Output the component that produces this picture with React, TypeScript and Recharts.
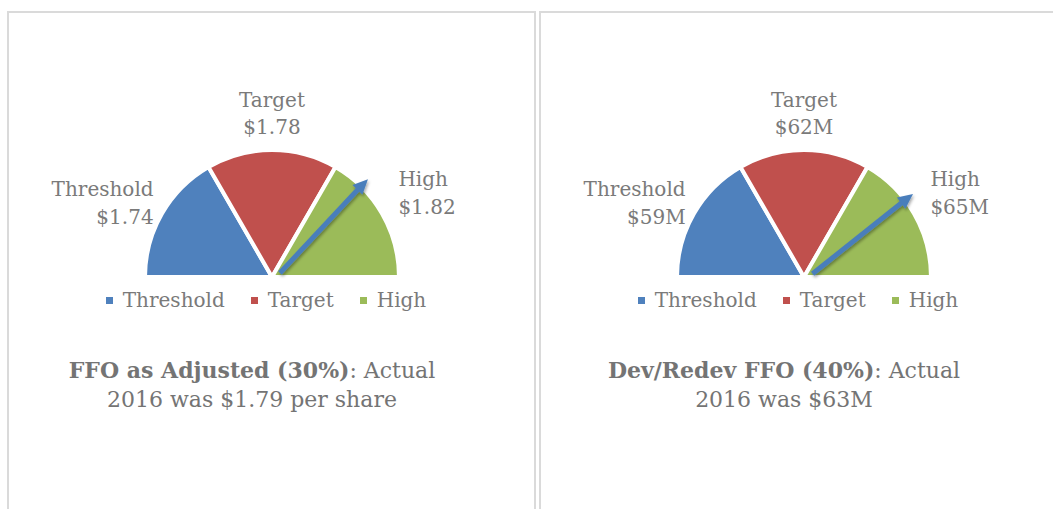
import React from 'react';
import { PieChart, Pie, Cell, Legend } from 'recharts';

// ---------- data ----------
const categories = ['Threshold', 'Target', 'High'];
const sliceShares = [1, 1, 1];
const ffoValueLabels = ['$1.74', '$1.78', '$1.82'];
const devValueLabels = ['$59M', '$62M', '$65M'];
// needle position, as a share of the dial's sweep
const needleShares = [0.747, 0.793];
const titleBold = ['FFO as Adjusted (30%)', 'Dev/Redev FFO (40%)'];
const titleRest = [': Actual', ': Actual'];
const titleLine2 = ['2016 was $1.79 per share', '2016 was $63M'];

const COLORS = ['#4f81bd', '#c0504d', '#9bbb59'];
const TEXT = '#7a7a7a';
const FONT = '"DejaVu Serif", serif';

const CHART_H = 509;
const CX = 272;
const CY = 277;
const R = 127;

const makeSlices = (valueLabels: string[]) =>
  categories.map((name, i) => ({ name, value: sliceShares[i], label: valueLabels[i] }));

const RAD = Math.PI / 180;

const renderSliceLabel = (props: any) => {
  const { cx, cy, midAngle, outerRadius, payload } = props;
  const gap = 12;
  const r = outerRadius + gap;
  const cos = Math.cos(midAngle * RAD);
  const sin = Math.sin(midAngle * RAD);
  const ax = cx + r * cos;
  const ay = cy - r * sin;
  let anchor: 'start' | 'middle' | 'end' = 'middle';
  let y1: number;
  let y2: number;
  let x = ax;
  if (Math.abs(cos) < 0.3) {
    y1 = ay - 38;
    y2 = ay - 11;
  } else if (cos < 0) {
    anchor = 'end';
    x = ax + 2;
    y1 = ay - 19;
    y2 = ay + 9;
  } else {
    anchor = 'start';
    x = ax + 6;
    y1 = ay - 29;
    y2 = ay - 1;
  }
  return (
    <g>
      <text x={x} y={y1 + 7} textAnchor={anchor} fill={TEXT} fontSize={20} fontFamily={FONT}>
        {payload.name}
      </text>
      <text x={x} y={y2 + 7} textAnchor={anchor} fill={TEXT} fontSize={20} fontFamily={FONT}>
        {payload.label}
      </text>
    </g>
  );
};

const makeNeedleLabel = (filterId: string) => (props: any) => {
  const { cx, cy, endAngle, outerRadius, index } = props;
  if (index !== 0) return null;
  const ux = Math.cos(endAngle * RAD);
  const uy = -Math.sin(endAngle * RAD);
  const px = -uy;
  const py = ux;
  const tail = 7;
  const tipR = outerRadius + 10;
  const head = 15;
  const hw = 7;
  const tx = cx + tipR * ux;
  const ty = cy + tipR * uy;
  const bx = cx + (tipR - head) * ux;
  const by = cy + (tipR - head) * uy;
  return (
    <g filter={`url(#${filterId})`}>
      <line
        x1={cx + tail * ux + 3}
        y1={cy + tail * uy + 1}
        x2={bx + 2 * ux}
        y2={by + 2 * uy}
        stroke="#4a7ebb"
        strokeWidth={5}
      />
      <polygon
        points={`${tx},${ty} ${bx + hw * px},${by + hw * py} ${bx - hw * px},${by - hw * py}`}
        fill="#4a7ebb"
      />
    </g>
  );
};

const renderLegend = () => (
  <div
    style={{
      display: 'flex',
      justifyContent: 'center',
      alignItems: 'center',
      fontFamily: FONT,
      fontSize: 20,
      lineHeight: '24px',
      color: TEXT,
    }}
  >
    {categories.map((name, i) => (
      <div key={name} style={{ display: 'flex', alignItems: 'center', marginLeft: i ? 26 : 0 }}>
        <span
          style={{ display: 'inline-block', width: 7, height: 7, background: COLORS[i], marginRight: 10 }}
        />
        <span>{name}</span>
      </div>
    ))}
  </div>
);

const Gauge = ({ idx, valueLabels, left, width }: { idx: number; valueLabels: string[]; left: number; width: number }) => {
  const slices = makeSlices(valueLabels);
  const needle = [{ name: 'actual', value: needleShares[idx] }, { name: 'rest', value: 1 - needleShares[idx] }];
  const filterId = `arrowShadow${idx}`;
  return (
    <div style={{ position: 'absolute', left, top: 0, width, height: CHART_H }}>
      <PieChart width={width} height={CHART_H} margin={{ top: 0, right: 0, bottom: 0, left: 0 }}>
        <defs>
          <filter id={filterId} x="-50%" y="-50%" width="200%" height="200%">
            <feDropShadow dx="1" dy="2" stdDeviation="1.5" floodColor="#000" floodOpacity="0.35" />
          </filter>
        </defs>
        <Pie
          data={slices}
          dataKey="value"
          nameKey="name"
          cx={CX}
          cy={CY}
          outerRadius={R}
          startAngle={180}
          endAngle={0}
          stroke="#ffffff"
          strokeWidth={4}
          label={renderSliceLabel}
          labelLine={false}
          isAnimationActive={false}
        >
          {slices.map((s, i) => (
            <Cell key={s.name} fill={COLORS[i]} />
          ))}
        </Pie>
        <Pie
          data={needle}
          dataKey="value"
          nameKey="name"
          cx={CX}
          cy={CY}
          outerRadius={R}
          startAngle={180}
          endAngle={0}
          fill="none"
          stroke="none"
          legendType="none"
          label={makeNeedleLabel(filterId)}
          labelLine={false}
          isAnimationActive={false}
        >
          {needle.map((n) => (
            <Cell key={n.name} fill="none" stroke="none" />
          ))}
        </Pie>
        <Legend
          verticalAlign="bottom"
          content={renderLegend}
          wrapperStyle={{ top: 288, bottom: 'auto', left: 0, width: 532 }}
        />
      </PieChart>
      <div
        style={{
          position: 'absolute',
          left: 0,
          top: 356,
          width: 504,
          textAlign: 'center',
          fontFamily: FONT,
          fontSize: 22,
          lineHeight: '29px',
          color: '#747474',
        }}
      >
        <span style={{ fontWeight: 'bold' }}>{titleBold[idx]}</span>
        {titleRest[idx]}
        <br />
        {titleLine2[idx]}
      </div>
    </div>
  );
};

export default function App() {
  return (
    <div
      style={{
        position: 'absolute',
        left: 0,
        top: 0,
        width: 1053,
        height: 509,
        overflow: 'hidden',
        background: '#ffffff',
      }}
    >
      <div
        style={{
          position: 'absolute',
          left: 7,
          top: 11,
          width: 525,
          height: 600,
          border: '2px solid #dadada',
        }}
      />
      <div
        style={{
          position: 'absolute',
          left: 539,
          top: 11,
          width: 600,
          height: 600,
          border: '2px solid #dadada',
        }}
      />
      <Gauge idx={0} valueLabels={ffoValueLabels} left={0} width={532} />
      <Gauge idx={1} valueLabels={devValueLabels} left={532} width={521} />
    </div>
  );
}
